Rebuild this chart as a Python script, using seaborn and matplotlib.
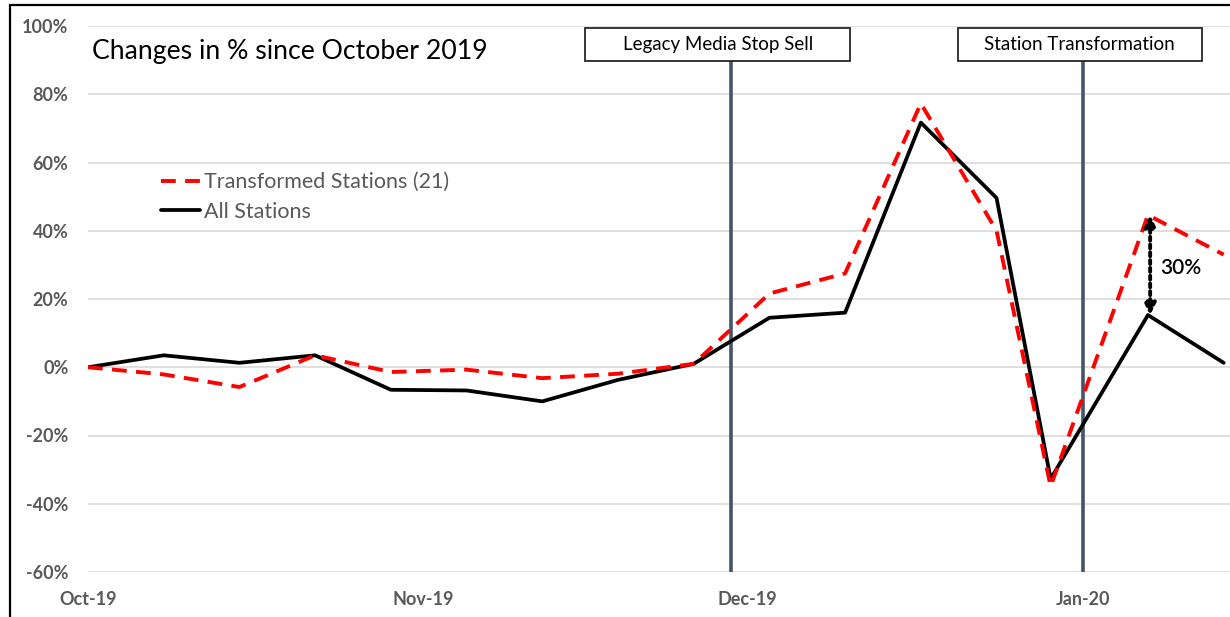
import pandas as pd
import matplotlib.pyplot as plt
import matplotlib.dates as mdates
import seaborn as sns
from matplotlib.patches import Rectangle
from matplotlib.ticker import FuncFormatter

# weekly readings, % change since October 2019
dates = ["2019-10-01", "2019-10-08", "2019-10-15", "2019-10-22", "2019-10-29",
         "2019-11-05", "2019-11-12", "2019-11-19", "2019-11-26", "2019-12-03",
         "2019-12-10", "2019-12-17", "2019-12-24", "2019-12-29", "2020-01-07",
         "2020-01-14"]
transformed = [0, -2.1, -5.8, 3.5, -1.4, -0.7, -3.2, -1.9, 1.0, 21.6,
               27.5, 77.3, 40.0, -34.9, 44.6, 33.0]
all_stations = [0, 3.5, 1.3, 3.5, -6.6, -6.8, -10.0, -3.7, 1.0, 14.5,
                16.0, 71.7, 49.6, -32.7, 15.3, 1.3]
series_names = ["Transformed Stations (21)", "All Stations"]
month_ticks = ["2019-10-01", "2019-11-01", "2019-12-01", "2020-01-01"]
y_ticks = [-60, -40, -20, 0, 20, 40, 60, 80, 100]
events = ["Legacy Media Stop Sell", "Station Transformation"]
event_dates = ["2019-11-29 10:00", "2020-01-01"]
gap_label = "30%"

df = pd.DataFrame({
    "date": pd.to_datetime(dates * 2),
    "change": transformed + all_stations,
    "series": [series_names[0]] * len(dates) + [series_names[1]] * len(dates),
})

sns.set_style("white")
plt.rcParams["font.family"] = ["Lato", "DejaVu Sans"]

fig = plt.figure(figsize=(12.3, 6.17), dpi=100)
ax = fig.add_axes([88 / 1230, 45 / 617, 1142 / 1230, 546 / 617])

grey = "#595959"
slate = "#44546a"

sns.lineplot(
    data=df[df["series"] == series_names[1]],
    x="date", y="change",
    color="black", linewidth=2.7,
    label=series_names[1], legend=False,
    ax=ax, zorder=3
)
sns.lineplot(
    data=df[df["series"] == series_names[0]],
    x="date", y="change",
    color="#ff0000", linewidth=2.8,
    label=series_names[0], legend=False,
    ax=ax, zorder=4
)
ax.lines[1].set_dashes((3.8, 2.4))

ax.set_ylim(-60, 100)
ax.set_xlim(pd.Timestamp("2019-10-01"), pd.Timestamp("2020-01-14 14:00"))
ax.set_yticks(y_ticks)
ax.yaxis.set_major_formatter(FuncFormatter(lambda v, _: f"{v:.0f}%"))
ax.set_xticks(pd.to_datetime(month_ticks))
ax.xaxis.set_major_formatter(mdates.DateFormatter("%b-%y"))
ax.grid(axis="y", color="#d9d9d9", linewidth=1.2)
ax.set_axisbelow(True)
for s in ax.spines.values():
    s.set_visible(False)
ax.tick_params(axis="y", length=0, pad=14, labelsize=13, labelcolor=grey)
ax.tick_params(axis="x", length=0, pad=14, labelsize=13, labelcolor=grey)
for lab in ax.get_xticklabels() + ax.get_yticklabels():
    lab.set_fontweight("bold")
ax.set_xlabel("")
ax.set_ylabel("")

# event markers with boxed captions
box_offsets = [(-13.45, 24.5), (-11.6, 22.6)]
for name, d, (off, w) in zip(events, event_dates, box_offsets):
    x0 = mdates.date2num(pd.Timestamp(d))
    ax.vlines(x0, -60, 89.8, color=slate, linewidth=2.6, zorder=2)
    ax.add_patch(Rectangle((x0 + off, 89.8), w, 9.6, facecolor="white",
                           edgecolor="#262626", linewidth=1.3, clip_on=False, zorder=5))
    ax.text(x0 + off + w / 2, 94.6, name, ha="center", va="center",
            fontsize=13.5, color="black", zorder=6)

# gap arrow between the two series
arrow_x = mdates.date2num(pd.Timestamp(dates[14])) + 0.2
ax.annotate("", xy=(arrow_x, transformed[14]), xytext=(arrow_x, all_stations[14]),
            arrowprops=dict(arrowstyle="<|-|>", color="black", linestyle=(0, (1, 1)),
                            linewidth=2.8, mutation_scale=17, shrinkA=0, shrinkB=0),
            zorder=6)
ax.text(arrow_x + 0.9, 29, gap_label, ha="left", va="center", fontsize=15,
        fontweight="semibold", color="black")

fig.text(92 / 1230, 1 - 52 / 617, "Changes in % since October 2019",
         ha="left", va="center", fontsize=19.2, color="black")

handles = [ax.lines[1], ax.lines[0]]
ax.legend(handles, series_names, loc="upper left", bbox_to_anchor=(0.064, 0.732),
          frameon=False, fontsize=15.5, labelcolor=grey, handlelength=1.8,
          handletextpad=0.2, labelspacing=0.45, borderpad=0, borderaxespad=0)

# outer chart border
fig.patches.append(Rectangle((10 / 1230, -0.2), 1.5, 1 - 5 / 617 + 0.2, transform=fig.transFigure,
                             fill=False, edgecolor="black", linewidth=1.6))

fig.savefig("out.png", dpi=100)
